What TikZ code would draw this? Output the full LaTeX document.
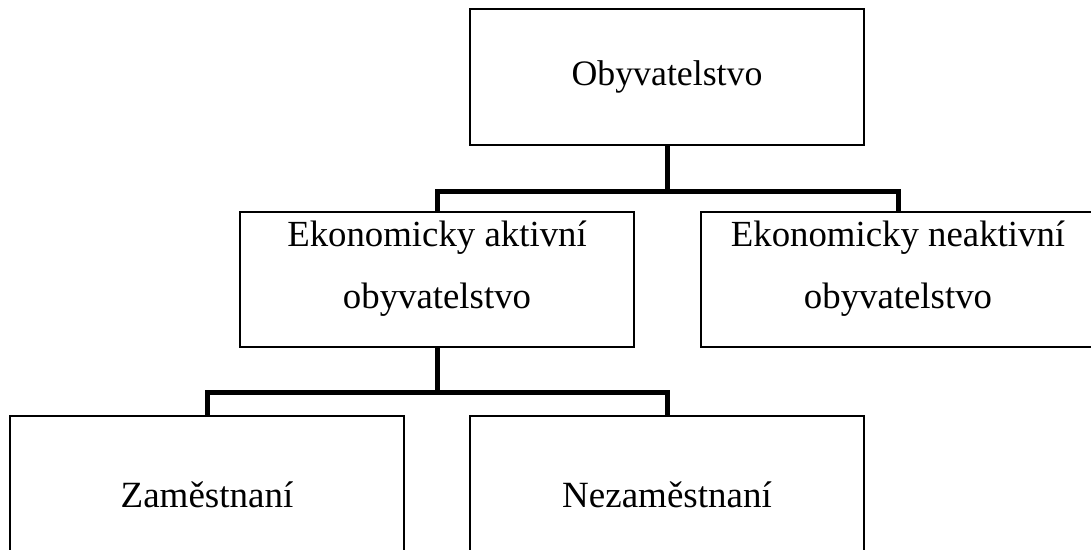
\documentclass[tikz,border=0pt]{standalone}
\usepackage{fontspec}
\setmainfont{Liberation Serif}

\begin{document}
\begin{tikzpicture}[
x=0.5pt, y=-0.5pt,
Box/.style={draw, line width=0.8pt, rectangle, inner sep=0pt, minimum width=197pt, align=center},
Link/.style={line width=2.5pt, line join=miter},
TopText/.style={font=\fontsize{17.9pt}{21pt}\selectfont},
MidText/.style={font=\fontsize{18.4pt}{31pt}\selectfont, align=center, inner sep=0pt},
LowText/.style={font=\fontsize{18.5pt}{22pt}\selectfont}
]
\useasboundingbox (0,0) rectangle (1091,550);
\fill[white] (0,0) rectangle (1091,550);
\clip (0,0) rectangle (1091,550);

% top level
\node[Box, TopText, minimum height=68pt] (obyv) at (667,77) {Obyvatelstvo};

% second level
\node[Box, minimum height=67.5pt] (aktiv) at (437,279.5) {};
\node[Box, minimum height=67.5pt] (neaktiv) at (898,279.5) {};
\node[MidText] (aktivText) at ([yshift=5.5pt]aktiv.center) {Ekonomicky aktivní\\obyvatelstvo};
\node[MidText] (neaktivText) at ([yshift=5.5pt]neaktiv.center) {Ekonomicky neaktivní\\obyvatelstvo};

% third level
\node[Box, LowText, minimum height=78.5pt] (zam) at (207,494.5) {Zaměstnaní};
\node[Box, LowText, minimum height=78.5pt] (nezam) at (667,494.5) {Nezaměstnaní};

% connectors
\draw[Link] (obyv.south) -- ++(0,46) -| (aktiv.north);
\draw[Link] (obyv.south) -- ++(0,46) -| (neaktiv.north);
\draw[Link] (aktiv.south) -- ++(0,45) -| (zam.north);
\draw[Link] (aktiv.south) -- ++(0,45) -| (nezam.north);

\end{tikzpicture}
\end{document}
